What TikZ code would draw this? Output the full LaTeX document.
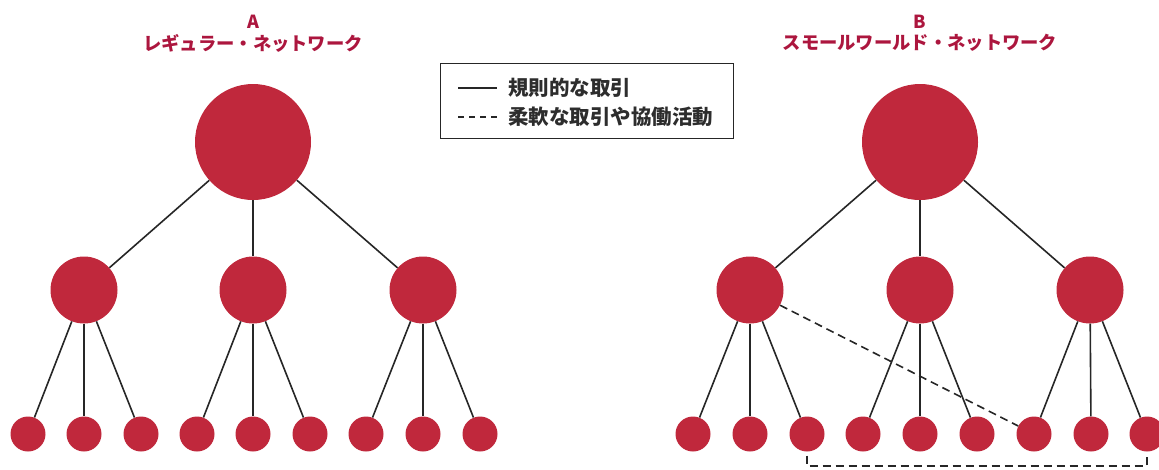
\documentclass[tikz,border=0pt]{standalone}
\usepackage{fontspec}
\setmainfont{Liberation Sans}
\newfontfamily\jp{Noto Sans CJK JP}
\definecolor{crim}{RGB}{192,40,60}
\definecolor{ttl}{RGB}{172,22,62}
\definecolor{txt}{RGB}{45,45,45}
\begin{document}
\begin{tikzpicture}[x=1pt,y=-1pt,
  big/.style={circle,fill=crim,minimum size=116pt,inner sep=0pt},
  mid/.style={circle,fill=crim,minimum size=67pt,inner sep=0pt},
  leaf/.style={circle,fill=crim,minimum size=35pt,inner sep=0pt},
  link/.style={line width=1.6pt,draw=black!85},
  flex/.style={line width=1.6pt,draw=black!85,dash pattern=on 8pt off 5pt},
  ttlA/.style={text=ttl,font=\jp\bfseries\fontsize{18}{20}\selectfont,inner sep=0pt},
  ttlJ/.style={text=ttl,font=\jp\bfseries\fontsize{18.3}{20}\selectfont,inner sep=0pt},
  legt/.style={anchor=west,text=txt,font=\jp\bfseries\fontsize{20.5}{22}\selectfont,inner sep=0pt}]
\useasboundingbox (0,0) rectangle (1159,469);
% titles
\node[ttlA] (tA) at (253,22) {A};
\node[ttlJ] (tA2) at (253,43) {レギュラー・ネットワーク};
\node[ttlA] (tB) at (920,22) {B};
\node[ttlJ] (tB2) at (920,43) {スモールワールド・ネットワーク};
% legend
\node[draw=black!85,line width=1pt,minimum width=293pt,minimum height=75pt,inner sep=0pt] (leg) at (586.5,100.5) {};
\coordinate (l1a) at (458,88); \coordinate (l1b) at (497,88);
\coordinate (l2a) at (458,117); \coordinate (l2b) at (497,117);
\draw[line width=1.4pt,draw=black!85] (l1a) -- (l1b);
\draw[line width=1.4pt,draw=black!85,dash pattern=on 6pt off 5pt] (l2a) -- (l2b);
\node[legt] (lt1) at (508,88) {規則的な取引};
\node[legt] (lt2) at (508,117) {柔軟な取引や協働活動};
% network A
\node[big] (A0) at (253,142) {};
\node[mid] (A1) at (84,290) {};
\node[mid] (A2) at (253,290) {};
\node[mid] (A3) at (423,290) {};
\foreach \i/\x in {1/28,2/84,3/141,4/197,5/253,6/310,7/366,8/423,9/480}
  \node[leaf] (a\i) at (\x,434) {};
\foreach \m in {1,2,3} \draw[link] (A0) -- (A\m);
\draw[link] (A1) -- (a1); \draw[link] (A1) -- (a2); \draw[link] (A1) -- (a3);
\draw[link] (A2) -- (a4); \draw[link] (A2) -- (a5); \draw[link] (A2) -- (a6);
\draw[link] (A3) -- (a7); \draw[link] (A3) -- (a8); \draw[link] (A3) -- (a9);
% network B
\node[big] (B0) at (920,142) {};
\node[mid] (B1) at (750,290) {};
\node[mid] (B2) at (920,290) {};
\node[mid] (B3) at (1090,290) {};
\foreach \i/\x in {1/693,2/750,3/807,4/863,5/920,6/977,7/1034,8/1091,9/1147}
  \node[leaf] (b\i) at (\x,434) {};
\foreach \m in {1,2,3} \draw[link] (B0) -- (B\m);
\draw[link] (B1) -- (b1); \draw[link] (B1) -- (b2); \draw[link] (B1) -- (b3);
\draw[link] (B2) -- (b4); \draw[link] (B2) -- (b5); \draw[link] (B2) -- (b6);
\draw[link] (B3) -- (b7); \draw[link] (B3) -- (b8); \draw[link] (B3) -- (b9);
\draw[flex] (B1) -- (b7);
\coordinate (bk) at (0,466);
\draw[flex] ([yshift=-4pt]b3.south) -- (b3 |- bk) -- (b9 |- bk) -- ([yshift=-4pt]b9.south);
\end{tikzpicture}
\end{document}
